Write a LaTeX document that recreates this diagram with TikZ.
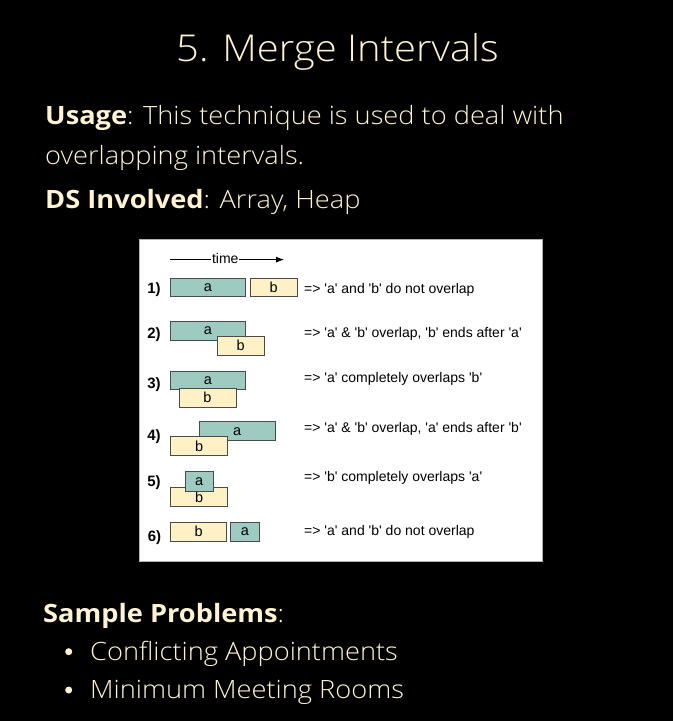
\documentclass[tikz,border=0pt]{standalone}
\usepackage{fontspec}
\IfFontExistsTF{Open Sans Light}{\setmainfont{Open Sans Light}[UprightFeatures={FakeStretch=1.08}, BoldFont={Open Sans Bold}, BoldFeatures={FakeStretch=1.08}]}{\setmainfont{Open Sans}}
\newfontfamily\arialf{Liberation Sans}[Ligatures=TeXOff]
\usetikzlibrary{arrows.meta}
\definecolor{cream}{HTML}{FFF3D2}
\definecolor{tealc}{HTML}{9ECBC1}
\definecolor{yelc}{HTML}{FFF1C6}
\definecolor{bordc}{HTML}{4A4A4A}
\tikzset{
  body/.style={anchor=base west, inner sep=0, text=cream, font=\fontsize{25.2}{30}\selectfont},
  ivl/.style={draw=bordc, line width=1pt, inner sep=0, font=\arialf\fontsize{14.5}{16}\selectfont, text=black},
  abox/.style={ivl, fill=tealc},
  bbox/.style={ivl, fill=yelc},
  lbl/.style={anchor=base, inner sep=0, font=\arialf\bfseries\fontsize{15}{16}\selectfont},
  desc/.style={anchor=base west, inner sep=0, font=\arialf\fontsize{14}{16}\selectfont},
  bul/.style={circle, fill=cream, minimum size=7pt, inner sep=0}
}
\begin{document}
\begin{tikzpicture}[x=1pt,y=-1pt]
\path[fill=black, use as bounding box] (0,0) rectangle (673,721);
% title and text
\node[anchor=base, inner sep=0, text=cream, font=\fontsize{37}{44}\selectfont] (title) at (337.5,61.7) {5. Merge Intervals};
\node[body] (usage1) at (45,124) {\textbf{Usage}: This technique is used to deal with};
\node[body] (usage2) at (45,164) {overlapping intervals.};
\node[body] (ds) at (45,208.3) {\textbf{DS Involved}: Array, Heap};
\node[body] (sp) at (43,622.3) {\textbf{Sample Problems}:};
\node[bul] (b1) at (68.7,651.7) {};
\node[body] (p1) at (90,660.7) {Conflicting Appointments};
\node[bul] (b2) at (68.7,690) {};
\node[body] (p2) at (90,698.3) {Minimum Meeting Rooms};
% panel
\node[fill=white, draw=gray!60, line width=0.5pt, minimum width=403pt, minimum height=322pt, inner sep=0, anchor=north west] (panel) at (139,239) {};
% time arrow
\node[inner sep=0.5pt, anchor=base, font=\arialf\fontsize{14}{16}\selectfont] (time) at (225.3,263.7) {time};
\coordinate (ts) at (170,259.6);
\coordinate (te) at (284,259.6);
\draw[line width=0.8pt] (ts) -- (ts -| time.west);
\draw[line width=0.8pt, -{Latex[length=8pt,width=6pt]}] (time.east |- ts) -- (te);
% row 1
\node[lbl] (l1) at (154,293.5) {1)};
\node[abox, minimum width=75.7pt, minimum height=18.4pt] (a1) at (207.9,287.5) {a};
\node[bbox, minimum width=47.3pt, minimum height=18.4pt] (bb1) at (273.7,287.5) {b};
\node[desc] (d1) at (304,293.3) {=> 'a' and 'b' do not overlap};
% row 2
\node[lbl] (l2) at (154,338.5) {2)};
\node[abox, minimum width=75.7pt, minimum height=19pt] (a2) at (207.9,330.5) {a};
\node[bbox, minimum width=47.3pt, minimum height=19.3pt] (bb2) at (240.7,345.7) {b};
\node[desc] (d2) at (304,337) {=> 'a' \& 'b' overlap, 'b' ends after 'a'};
% row 3
\node[lbl] (l3) at (154,388.5) {3)};
\node[abox, minimum width=75.7pt, minimum height=18.3pt] (a3) at (207.9,380.2) {a};
\node[bbox, minimum width=57pt, minimum height=19pt] (bb3) at (207.5,397.8) {b};
\node[desc] (d3) at (304,382) {=> 'a' completely overlaps 'b'};
% row 4
\node[lbl] (l4) at (154,440.2) {4)};
\node[abox, minimum width=75.7pt, minimum height=19pt] (a4) at (237.2,431.2) {a};
\node[bbox, minimum width=57pt, minimum height=19pt] (bb4) at (199.2,446.2) {b};
\node[desc] (d4) at (304,432) {=> 'a' \& 'b' overlap, 'a' ends after 'b'};
% row 5
\node[lbl] (l5) at (154,486.9) {5)};
\node[bbox, minimum width=57pt, minimum height=19.4pt] (bb5) at (199.2,497) {b};
\node[abox, minimum width=28.3pt, minimum height=19.3pt] (a5) at (199.2,481.4) {a};
\node[desc] (d5) at (304,481) {=> 'b' completely overlaps 'a'};
% row 6
\node[lbl] (l6) at (154.5,541.2) {6)};
\node[bbox, minimum width=56pt, minimum height=18.7pt] (bb6) at (198.7,531.7) {b};
\node[abox, minimum width=28.6pt, minimum height=18.7pt] (a6) at (245,531.7) {a};
\node[desc] (d6) at (304,535.5) {=> 'a' and 'b' do not overlap};
\end{tikzpicture}
\end{document}
